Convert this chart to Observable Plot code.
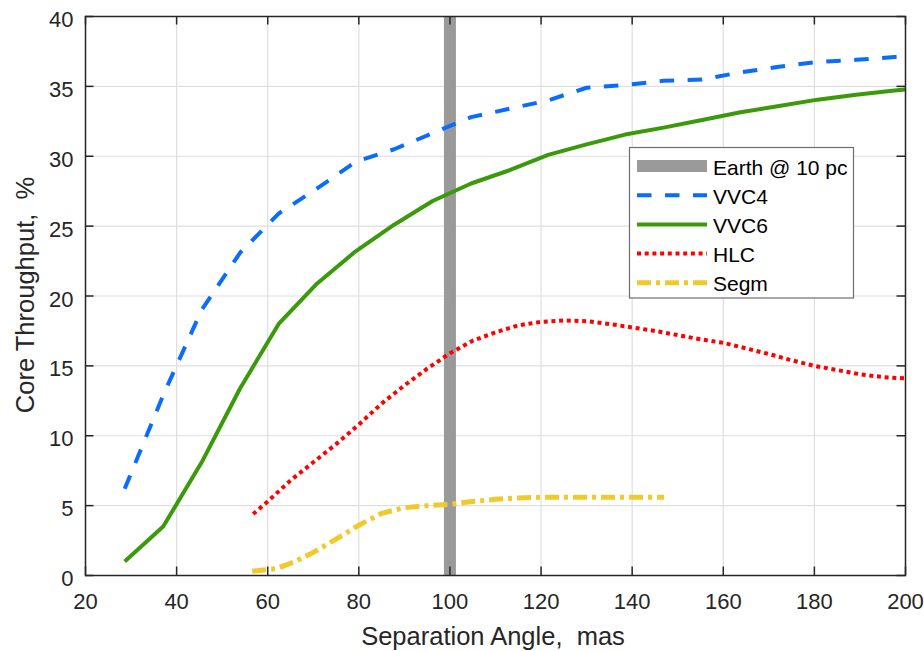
<!DOCTYPE html>
<html><head><meta charset="utf-8">
<script src="https://cdn.jsdelivr.net/npm/d3@7"></script>
<script src="https://cdn.jsdelivr.net/npm/@observablehq/plot@0.6"></script>
<style>body{margin:0;background:#fff} svg{display:block}</style>
</head><body><div id="chart"></div>
<script>
// ---- data ----
const xTicks = [20, 40, 60, 80, 100, 120, 140, 160, 180, 200];
const yTicks = [0, 5, 10, 15, 20, 25, 30, 35, 40];
const earthAngle = [100];
const vvcAngle = [28.6, 37.05, 45.5, 53.95, 62.4, 70.85, 79.3, 87.75, 96.2, 104.65, 113.1, 121.55, 130, 138.45, 146.9, 155.35, 163.8, 172.25, 180.7, 189.15, 197.6, 206.05];
const vvc4 = [6.2, 12.9, 19.0, 23.1, 25.9, 27.7, 29.6, 30.5, 31.65, 32.8, 33.4, 34.0, 34.9, 35.1, 35.4, 35.5, 36.0, 36.4, 36.75, 36.9, 37.1, 37.25];
const vvc6 = [1.0, 3.5, 8.1, 13.4, 18.0, 20.9, 23.2, 25.1, 26.8, 28.05, 29.0, 30.1, 30.85, 31.55, 32.05, 32.6, 33.15, 33.6, 34.05, 34.4, 34.7, 35.0];
const hlcAngle = [56.8, 60, 65, 70, 75, 80, 85, 90, 95, 100, 105, 110, 115, 120, 125, 130, 135, 140, 145, 150, 155, 160, 165, 170, 175, 180, 185, 190, 195, 200];
const hlc = [4.4, 5.3, 6.8, 8.1, 9.4, 10.8, 12.3, 13.6, 14.8, 15.9, 16.8, 17.4, 17.9, 18.15, 18.25, 18.2, 18.0, 17.75, 17.5, 17.2, 16.9, 16.65, 16.25, 15.85, 15.4, 15.0, 14.7, 14.4, 14.2, 14.1];
const segmAngle = [56.6, 62, 66, 70, 75, 80, 85, 90, 95, 100, 105, 110, 115, 120, 130, 140, 147];
const segm = [0.3, 0.5, 1.0, 1.65, 2.6, 3.6, 4.45, 4.85, 5.0, 5.1, 5.3, 5.45, 5.55, 5.6, 5.6, 5.6, 5.6];
const seriesNames = ["Earth @ 10 pc", "VVC4", "VVC6", "HLC", "Segm"];

// ---- styles ----
const styles = {
  "Earth @ 10 pc": {stroke: "#9a9a9a", strokeWidth: 12, dash: null},
  "VVC4": {stroke: "#0a6cff", strokeWidth: 4, dash: "14.5,13.5"},
  "VVC6": {stroke: "#3a9a0a", strokeWidth: 4, dash: null},
  "HLC": {stroke: "#ff0000", strokeWidth: 4, dash: "4,3.7"},
  "Segm": {stroke: "#f2c92a", strokeWidth: 5, dash: "14,5,4,5"}
};

const W = 924, H = 651, ML = 85, MR = 19, MT = 16, MB = 76;
const FW = W - ML - MR, FH = H - MT - MB;
const tickLen = 8.5;
const axisColor = "#262626";
const font = "'Liberation Sans', Arial, Helvetica, sans-serif";

function lineMark(xs, ys, name) {
  const s = styles[name];
  return Plot.line(ys.map((v, i) => ({x: xs[i], y: v})), {
    x: "x", y: "y", stroke: s.stroke, strokeWidth: s.strokeWidth,
    strokeDasharray: s.dash, strokeLinecap: "butt", strokeLinejoin: "round", clip: true
  });
}

const plot = Plot.plot({
  width: W, height: H,
  marginLeft: ML, marginRight: MR, marginTop: MT, marginBottom: MB,
  style: {fontFamily: font, color: axisColor, background: "#fff", fontSize: "22px"},
  x: {domain: [20, 200]},
  y: {domain: [0, 40]},
  marks: [
    Plot.ruleX(xTicks, {stroke: "#dfdfdf", strokeWidth: 1.2}),
    Plot.ruleY(yTicks, {stroke: "#dfdfdf", strokeWidth: 1.2}),
    Plot.ruleX(earthAngle, {stroke: styles["Earth @ 10 pc"].stroke, strokeWidth: 12}),
    lineMark(vvcAngle, vvc4, "VVC4"),
    lineMark(vvcAngle, vvc6, "VVC6"),
    lineMark(hlcAngle, hlc, "HLC"),
    lineMark(segmAngle, segm, "Segm"),
    Plot.frame({stroke: axisColor, strokeWidth: 1.5}),
    Plot.ruleX(xTicks, {stroke: axisColor, strokeWidth: 1.5, insetTop: FH - tickLen}),
    Plot.ruleX(xTicks, {stroke: axisColor, strokeWidth: 1.5, insetBottom: FH - tickLen}),
    Plot.ruleY(yTicks, {stroke: axisColor, strokeWidth: 1.5, insetRight: FW - tickLen}),
    Plot.ruleY(yTicks, {stroke: axisColor, strokeWidth: 1.5, insetLeft: FW - tickLen}),
    Plot.axisX({ticks: xTicks, tickSize: 0, tickPadding: 18, fontSize: 22, label: null}),
    Plot.axisY({ticks: yTicks, tickSize: 0, tickPadding: 12, fontSize: 22, label: null, dy: 3.5})
  ]
});

const svg = d3.select(plot);
// axis titles
svg.append("text")
  .attr("transform", `translate(33.5, 295) rotate(-90)`)
  .attr("text-anchor", "middle").attr("font-size", 25.5).attr("fill", axisColor)
  .style("white-space", "pre").attr("font-family", font)
  .text("Core Throughput,  %");
svg.append("text")
  .attr("x", 493).attr("y", 645)
  .attr("text-anchor", "middle").attr("font-size", 25.5).attr("fill", axisColor)
  .style("white-space", "pre").attr("font-family", font)
  .text("Separation Angle,  mas");

// legend
const lg = svg.append("g");
lg.append("rect").attr("x", 629.5).attr("y", 147.5).attr("width", 224).attr("height", 150.5)
  .attr("fill", "#fff").attr("stroke", "#6e6e6e").attr("stroke-width", 1.2);
seriesNames.forEach((name, i) => {
  const s = styles[name];
  const cy = 166 + 29.2 * i;
  lg.append("line").attr("x1", 637).attr("x2", 707).attr("y1", cy).attr("y2", cy)
    .attr("stroke", s.stroke).attr("stroke-width", s.strokeWidth)
    .attr("stroke-dasharray", s.dash).attr("stroke-linecap", "butt");
  lg.append("text").attr("x", 713).attr("y", cy + 8.5)
    .attr("text-anchor", "start")
    .attr("font-size", 21).attr("fill", "#000").attr("font-family", font)
    .text(name);
});

document.getElementById("chart").appendChild(plot);
</script>
</body></html>
